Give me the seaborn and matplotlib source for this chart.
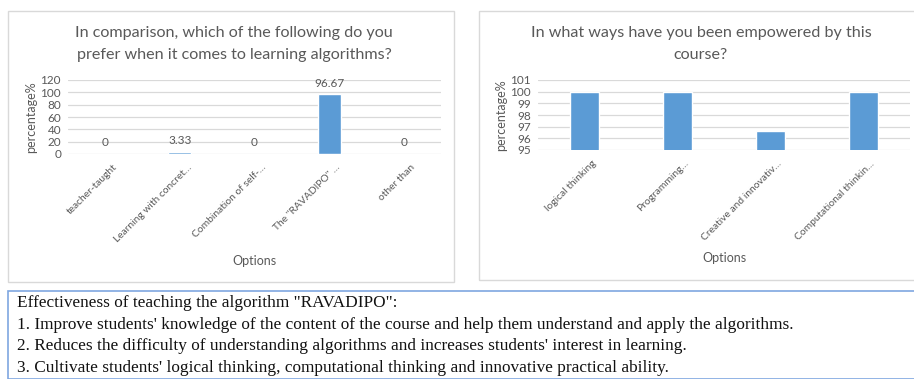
import matplotlib
matplotlib.use("Agg")
import matplotlib.pyplot as plt
from matplotlib.patches import Rectangle
from matplotlib.transforms import ScaledTranslation
import seaborn as sns
import pandas as pd

# Survey results
pref_options = ["teacher-taught", "Learning with concret\u2026", "Combination of self-\u2026",
                "The \"RAVADIPO\" \u2026", "other than"]
pref_values = [0, 3.33, 0, 96.67, 0]
pref_labels = ["0", "3.33", "0", "96.67", "0"]
pref_ticks = [0, 20, 40, 60, 80, 100, 120]

emp_options = ["logical thinking", "Programming\u2026", "Creative and innovativ\u2026",
               "Computational thinkin\u2026"]
emp_values = [100, 100, 96.67, 100]
emp_ticks = [95, 96, 97, 98, 99, 100, 101]

pref_title = ["In comparison, which of the following do you",
              "prefer when it comes to learning algorithms?"]
emp_title = ["In what ways have you been empowered by this", "course?"]

summary_lines = [
    "Effectiveness of teaching the algorithm \"RAVADIPO\":",
    "1. Improve students' knowledge of the content of the course and help them understand and apply the algorithms.",
    "2. Reduces the difficulty of understanding algorithms and increases students' interest in learning.",
    "3. Cultivate students' logical thinking, computational thinking and innovative practical ability.",
]

sns.set_theme(style="white")
plt.rcParams["font.family"] = ["Lato", "DejaVu Sans"]

W, H = 914, 379
fig = plt.figure(figsize=(W / 100, H / 100), dpi=100)
fig.patch.set_facecolor("white")

GRAY = "#595959"
GRID = "#d9d9d9"
BAR = "#5b9bd5"


def px(x, y, w, h):
    """Convert a pixel box (top-left origin) to figure fractions."""
    return [x / W, 1 - (y + h) / H, w / W, h / H]


# panel frames
for (x, y, w, h) in [(8, 11, 446, 271), (479, 11, 445, 269)]:
    fig.patches.append(Rectangle((x / W, 1 - (y + h) / H), w / W, h / H,
                                 transform=fig.transFigure, fill=False,
                                 edgecolor=GRID, linewidth=1.0))


def style_axes(ax, ticks, ylim):
    ax.set_ylim(*ylim)
    ax.set_yticks(ticks)
    ax.grid(axis="y", color=GRID, linewidth=0.9)
    ax.set_axisbelow(True)
    for s in ax.spines.values():
        s.set_visible(False)
    ax.tick_params(axis="both", length=0, labelsize=8.5, colors=GRAY)
    ax.tick_params(axis="y", pad=5)
    ax.set_ylabel("percentage%", fontsize=9, color=GRAY)
    ax.set_xlabel("Options", fontsize=9, color=GRAY)
    shift = ScaledTranslation(7 / 100, -4 / 100, fig.dpi_scale_trans)
    for lab in ax.get_xticklabels():
        lab.set_rotation(45)
        lab.set_ha("right")
        lab.set_va("top")
        lab.set_rotation_mode("anchor")
        lab.set_fontsize(7.4)
        lab.set_transform(lab.get_transform() + shift)


def title(x, lines):
    for i, line in enumerate(lines):
        fig.text(x / W, 1 - (33 + 22 * i) / H, line, ha="center", va="center",
                 fontsize=11.6, color=GRAY)


# left chart
ax1 = fig.add_axes(px(68, 80, 373, 74))
df1 = pd.DataFrame({"opt": pref_options, "val": pref_values})
sns.barplot(data=df1, x="opt", y="val", color=BAR, saturation=1, width=0.31, ax=ax1)
style_axes(ax1, pref_ticks, (0, 120))
ax1.set_xlim(-0.5, len(pref_options) - 0.5)
ax1.bar_label(ax1.containers[0], labels=pref_labels, padding=4, fontsize=8.5, color=GRAY)
ax1.xaxis.set_label_coords(0.5, -1.37)
ax1.yaxis.set_label_coords(-0.082, 0.5)
title(234, pref_title)

# right chart
ax2 = fig.add_axes(px(538, 80, 372, 70))
df2 = pd.DataFrame({"opt": emp_options, "val": emp_values})
sns.barplot(data=df2, x="opt", y="val", color=BAR, saturation=1, width=0.31, ax=ax2)
style_axes(ax2, emp_ticks, (95, 101))
ax2.set_xlim(-0.5, len(emp_options) - 0.5)
ax2.xaxis.set_label_coords(0.5, -1.46)
ax2.yaxis.set_label_coords(-0.082, 0.5)
title(701, emp_title)

# summary box
fig.patches.append(Rectangle((8 / W, 0), 920 / W, (H - 290.5) / H,
                             transform=fig.transFigure, fill=False,
                             edgecolor="#7fa7e0", linewidth=1.2))
for i, line in enumerate(summary_lines):
    fig.text(17 / W, 1 - (303 + 21.7 * i) / H, line, ha="left", va="center",
             fontsize=12.4, color="#111111", family=["Liberation Serif", "DejaVu Serif"])

fig.savefig("out.png", dpi=100, facecolor="white")
